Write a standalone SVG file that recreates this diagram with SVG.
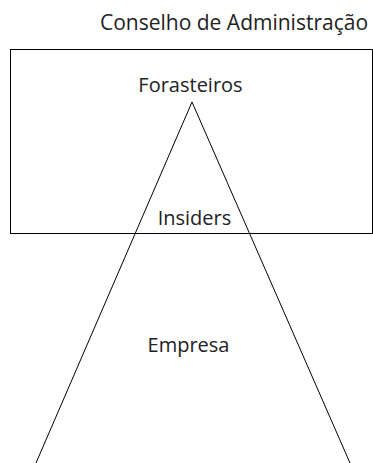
<svg xmlns="http://www.w3.org/2000/svg" width="373" height="463" viewBox="0 0 373 463">
<style>
text{font-family:"Open Sans","Liberation Sans",sans-serif;font-size:20px;fill:#222;text-anchor:middle}
.s{fill:none;stroke:#000;stroke-width:1}
</style>
<rect width="373" height="463" fill="#fff"/>
<g id="board">
<rect class="s" x="10.5" y="49.5" width="362" height="184"/>
<text x="234" y="30" style="font-size:21px">Conselho de Administração</text>
<text x="190.5" y="92">Forasteiros</text>
</g>
<g id="company">
<polyline class="s" points="36,463 192,102 350,463"/>
<text x="194.5" y="225">Insiders</text>
<text x="188.5" y="352">Empresa</text>
</g>
<g id="connectors"/>
</svg>
